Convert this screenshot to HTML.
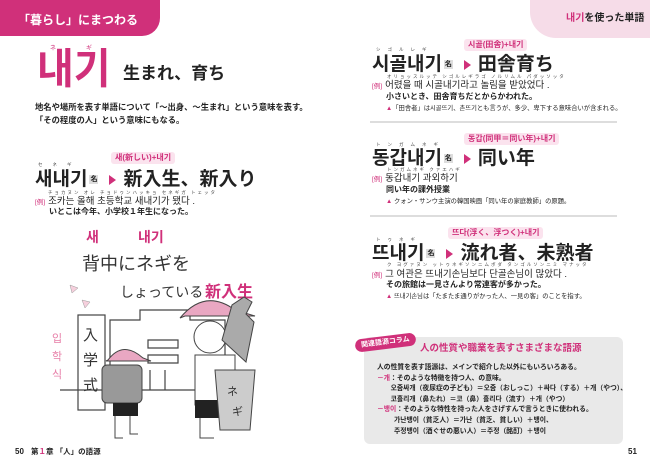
<!DOCTYPE html>
<html><head><meta charset="utf-8"><style>
*{margin:0;padding:0;box-sizing:border-box}
body{width:650px;height:471px;background:#fff;position:relative;overflow:hidden;font-family:"Liberation Sans","Noto Sans CJK JP",sans-serif;color:#222}
.a{position:absolute;white-space:nowrap;line-height:1}
.p{color:#d0307a}
.b{font-weight:bold}
.tag{position:absolute;background:#fbe3ee;color:#d0307a;font-size:8px;padding:2px 4px;border-radius:3px;font-weight:bold;line-height:1}
.nm{display:inline-block;background:#ddd;font-size:7px;padding:1px 1px;margin:0 4px 0 2px;vertical-align:middle;line-height:1}
.tri{display:inline-block;width:0;height:0;border-left:7px solid #d0307a;border-top:5px solid transparent;border-bottom:5px solid transparent;margin:0 7px;vertical-align:middle}
.ex{font-size:6.5px;color:#d0307a;margin-right:3px}
.hr{position:absolute;left:370px;width:247px;height:2px;background:#ddd}
.rb{position:absolute;font-size:4.5px;color:#444;line-height:1;white-space:nowrap;letter-spacing:2px}
</style></head><body>
<div style="position:absolute;left:0;top:0;width:160px;height:36px;background:#d0307a;border-bottom-right-radius:18px"></div>
<div class="a b" style="left:18px;top:14px;font-size:12px;color:#fff">「暮らし」にまつわる</div>
<div class="a" style="left:50px;top:46px;font-size:6px;color:#d0307a;letter-spacing:30px">ネギ</div>
<div class="a b p" style="left:37px;top:50px;font-size:40px;transform:scaleY(1.05)">내기</div>
<div class="a b" style="left:123px;top:65px;font-size:17px">生まれ、育ち</div>
<div class="a b" style="left:35px;top:103px;font-size:8.3px">地名や場所を表す単語について「～出身、～生まれ」という意味を表す。</div>
<div class="a b" style="left:35px;top:116px;font-size:8.3px">「その程度の人」という意味にもなる。</div>
<div class="tag" style="left:111px;top:152px">새(新しい)+내기</div>
<div class="rb" style="left:38px;top:163px;letter-spacing:10px">セネギ</div>
<div class="a b" style="left:35px;top:170px;font-size:19px">새내기<span class="nm">名</span><span class="tri"></span>新入生、新入り</div>
<div class="rb" style="left:48px;top:191px">チョカヌン オレ チョドゥンハッキョ セネギガ トェッタ</div>
<div class="a" style="left:35px;top:197px;font-size:9.5px"><span class="ex">[例]</span>조카는 올해 초등학교 새내기가 됐다 .</div>
<div class="a b" style="left:49px;top:208px;font-size:8px">いとこは今年、小学校１年生になった。</div>

<svg style="position:absolute;left:0;top:220px" width="280" height="230" viewBox="0 220 280 230">
<text x="86" y="242" font-size="14" fill="#d0307a" font-weight="bold" font-family="Noto Sans CJK KR">새</text>
<text x="138" y="242" font-size="14" fill="#d0307a" font-weight="bold" font-family="Noto Sans CJK KR">내기</text>
<text x="82" y="270" font-size="18" fill="#333" font-family="Noto Sans CJK JP">背中にネギを</text>
<text x="120" y="297" font-size="14" fill="#333" font-family="Noto Sans CJK JP">しょっている</text>
<text x="205" y="297" font-size="16" fill="#d0307a" font-weight="bold" font-family="Noto Sans CJK JP">新入生</text>
<path d="M70 285 l8 3 l-6 5z M82 300 l8 2 l-5 6z" fill="#f6d0dd" stroke="#999" stroke-width=".5"/>
<text x="52" y="342" font-size="11" fill="#e77fa8" font-family="Noto Sans CJK KR">입</text>
<text x="52" y="360" font-size="11" fill="#e77fa8" font-family="Noto Sans CJK KR">학</text>
<text x="52" y="378" font-size="11" fill="#e77fa8" font-family="Noto Sans CJK KR">식</text>
<g fill="none" stroke="#444" stroke-width="1.2">
<rect x="78" y="315" width="27" height="95"/>
<path d="M110 390 V320 H140 V310 H190 V320 H225 V390"/>
<circle cx="205" cy="329" r="5"/>
<path d="M148 340 h30 v8 h-30z M148 355 h30 v8 h-30z M150 370 v20 M165 370 v20 M60 390 H250"/>
</g>
<text x="83" y="340" font-size="15" fill="#333" font-family="Noto Sans CJK JP">入</text>
<text x="83" y="365" font-size="15" fill="#333" font-family="Noto Sans CJK JP">学</text>
<text x="83" y="390" font-size="15" fill="#333" font-family="Noto Sans CJK JP">式</text>
<path d="M108 360 q15 -20 35 -2 l8 3 h-45z" fill="#e9a7c2" stroke="#444"/>
<rect x="102" y="365" width="40" height="38" rx="5" fill="#999" stroke="#444"/>
<rect x="113" y="403" width="25" height="13" fill="#222"/>
<path d="M115 416 v22 h8 M130 416 v18 h8" stroke="#444" fill="none"/>
<path d="M180 318 q25 -30 55 -8 l20 6 h-70z" fill="#e9a7c2" stroke="#444"/>
<circle cx="210" cy="337" r="16" fill="#fff" stroke="#444"/>
<path d="M195 355 h40 v50 h-40z" fill="#fff" stroke="#444"/>
<rect x="195" y="400" width="30" height="18" fill="#222"/>
<path d="M200 418 v20 h14" stroke="#444" fill="none"/>
<path d="M222 340 l10 -35 l12 -8 l8 5 l-6 12 l8 8 l-8 40z" fill="#aaa" stroke="#444"/>
<path d="M215 370 h40 l-5 60 h-30z" fill="#ccc" stroke="#444"/>
<text x="227" y="395" font-size="11" fill="#333" font-family="Noto Sans CJK JP">ネ</text>
<text x="232" y="415" font-size="11" fill="#333" font-family="Noto Sans CJK JP">ギ</text>
</svg>

<div class="a b" style="left:15px;top:448px;font-size:8px">50</div>
<div class="a b" style="left:31px;top:448px;font-size:7.5px">第<span class="p">１</span>章 「人」の語源</div>

<div style="position:absolute;left:530px;top:-10px;width:130px;height:48px;background:#f6dce8;border-radius:0 0 0 26px"></div>
<div class="a b" style="left:566px;top:14px;font-size:10px"><span class="p">내기</span>を使った単語</div>

<div class="tag" style="left:464px;top:39px">시골(田舎)+내기</div>
<div class="rb" style="left:376px;top:48px;letter-spacing:7px">シゴルレギ</div>
<div class="a b" style="left:372px;top:55px;font-size:19px">시골내기<span class="nm">名</span><span class="tri"></span>田舎育ち</div>
<div class="rb" style="left:387px;top:75px">オリョッスルッテ シゴルレギラゴ ノルリムル パダッソッタ</div>
<div class="a" style="left:372px;top:81px;font-size:9.5px"><span class="ex">[例]</span>어렸을 때 시골내기라고 놀림을 받았었다 .</div>
<div class="a b" style="left:386px;top:93px;font-size:8px">小さいとき、田舎育ちだとからかわれた。</div>
<div class="a" style="left:386px;top:106px;font-size:6.3px"><span class="p">▲</span>「田舎者」は시골뜨기、촌뜨기とも言うが、多少、卑下する意味合いが含まれる。</div>
<div class="hr" style="top:121px"></div>

<div class="tag" style="left:464px;top:133px">동갑(同甲＝同い年)+내기</div>
<div class="rb" style="left:376px;top:143px;letter-spacing:7px">トンガムネギ</div>
<div class="a b" style="left:372px;top:149px;font-size:19px">동갑내기<span class="nm">名</span><span class="tri"></span>同い年</div>
<div class="rb" style="left:387px;top:168px">トンガムネギ クァエハギ</div>
<div class="a" style="left:372px;top:174px;font-size:9.5px"><span class="ex">[例]</span>동갑내기 과외하기</div>
<div class="a b" style="left:386px;top:186px;font-size:8px">同い年の課外授業</div>
<div class="a" style="left:386px;top:199px;font-size:6.3px"><span class="p">▲</span> クォン・サンウ主演の韓国映画「同い年の家庭教師」の原題。</div>
<div class="hr" style="top:215px"></div>

<div class="tag" style="left:448px;top:227px">뜨다(浮く、浮つく)+내기</div>
<div class="rb" style="left:376px;top:238px;letter-spacing:7px">トゥネギ</div>
<div class="a b" style="left:372px;top:244px;font-size:19px">뜨내기<span class="nm">名</span><span class="tri"></span>流れ者、未熟者</div>
<div class="rb" style="left:387px;top:263px">ク ヨグァヌン ットゥネギソンニムボダ タンゴルソンニミ マナッタ</div>
<div class="a" style="left:372px;top:270px;font-size:9.5px"><span class="ex">[例]</span>그 여관은 뜨내기손님보다 단골손님이 많았다 .</div>
<div class="a b" style="left:386px;top:281px;font-size:8px">その旅館は一見さんより常連客が多かった。</div>
<div class="a" style="left:386px;top:294px;font-size:6.3px"><span class="p">▲</span> 뜨내기손님は「たまたま通りがかった人、一見の客」のことを指す。</div>

<div style="position:absolute;left:364px;top:337px;width:259px;height:107px;background:#e9e9e9;border-radius:6px"></div>
<div class="a b" style="left:355px;top:336px;background:#d0307a;color:#fff;font-size:7px;padding:3px 6px;border-radius:8px;transform:rotate(-7deg)">関連語源コラム</div>
<div class="a b p" style="left:420px;top:344px;font-size:9.5px">人の性質や職業を表すさまざまな語源</div>
<div style="position:absolute;left:377px;top:363px;font-size:6.8px;line-height:10.6px;font-weight:bold;white-space:nowrap">
人の性質を表す語源は、メインで紹介した以外にもいろいろある。<br>
<span class="p">－개</span>：そのような特徴を持つ人、の意味。<br>
&emsp;&emsp;오줌싸개（夜尿症の子ども）＝오줌（おしっこ）＋싸다（する）＋개（やつ）、<br>
&emsp;&emsp;코흘리개（鼻たれ）＝코（鼻）흘리다（流す）＋개（やつ）<br>
<span class="p">－뱅이</span>：そのような特性を持った人をさげすんで言うときに使われる。<br>
&emsp;&emsp;&ensp;가난뱅이（貧乏人）＝가난（貧乏、貧しい）＋뱅이、<br>
&emsp;&emsp;&ensp;주정뱅이（酒ぐせの悪い人）＝주정（酩酊）＋뱅이
</div>
<div class="a b" style="left:628px;top:448px;font-size:8px">51</div>
</body></html>
